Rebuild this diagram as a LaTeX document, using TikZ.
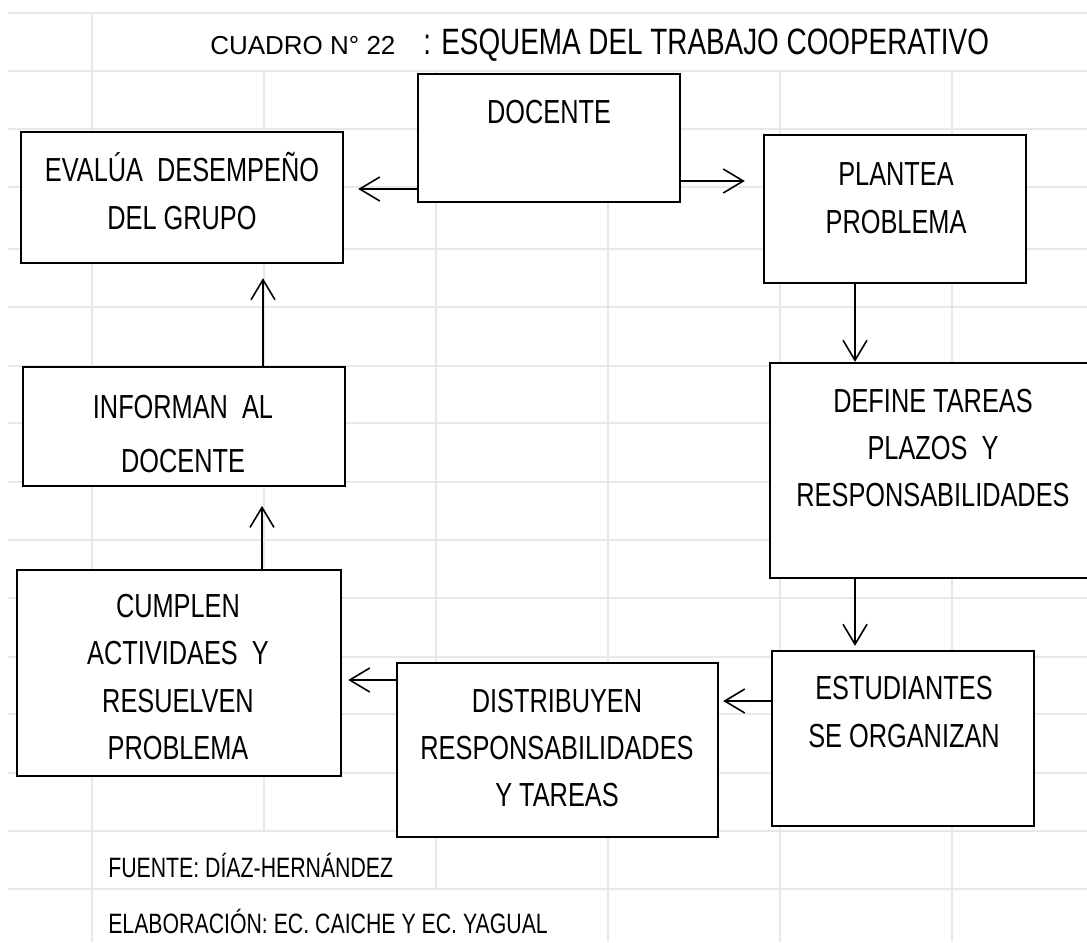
\documentclass[tikz,border=0pt]{standalone}
\usepackage{fontspec}
\setmainfont{Liberation Sans}
\newfontfamily\narrowfont{Liberation Sans}[FakeStretch=0.76]
\usetikzlibrary{arrows.meta, calc, fit}

\begin{document}
\begin{tikzpicture}[x=0.75pt, y=-0.75pt,
  sheetline/.style={gray!18, line width=1.3pt},
  box/.style={draw, fill=white, line width=1.8pt, inner sep=0pt},
  boxtext/.style={align=center, inner sep=0pt, font=\narrowfont\fontsize{25}{35.6}\selectfont},
  note/.style={anchor=base west, inner sep=0pt, font=\narrowfont\fontsize{21}{25}\selectfont},
  arr/.style={-{Straight Barb[length=15pt, width=18pt]}, line width=1.2pt}]

\useasboundingbox (0,0) rectangle (1087,942);
\fill[white] (0,0) rectangle (1087,942);
\clip (0,0) rectangle (1087,942);

% ---- spreadsheet grid (behind everything) -------------------------------
\foreach \y in {13,71,129,187,249,307,366,423,482,540,598,657,714,773,831,889}
  \draw[sheetline] (8,\y) -- (1087,\y);
\draw[sheetline] (92,13) -- (92,942);
\draw[sheetline] (264,71) -- (264,831);
\draw[sheetline] (436,71) -- (436,889);
\foreach \x in {608,780,952}
  \draw[sheetline] (\x,71) -- (\x,942);

% ---- title ---------------------------------------------------------------
\node[anchor=base west, inner sep=0pt, font=\fontsize{19.5}{24}\selectfont] (cuadro) at (210,55) {CUADRO N° 22};
\node[anchor=base west, inner sep=0pt, font=\narrowfont\fontsize{27.5}{33}\selectfont] (titulo) at (423,55)
  {: ESQUEMA DEL TRABAJO COOPERATIVO};

% ---- boxes ---------------------------------------------------------------
\node[box, fit={(418,74) (680,202)}] (docente) {};
\node[box, fit={(21,132) (343,263)}] (evalua) {};
\node[box, fit={(764,135) (1026,283)}] (plantea) {};
\node[box, fit={(770,363) (1096,578)}] (define) {};
\node[box, fit={(772,651) (1034,826)}] (estud) {};
\node[box, fit={(397,663) (718,837)}] (distrib) {};
\node[box, fit={(17,570) (341,776)}] (cumplen) {};
\node[box, fit={(23,367) (345,486)}] (informan) {};

\node[boxtext] (docentetxt) at (549,112) {DOCENTE};
\node[boxtext] (evaluatxt) at (182,191) {EVALÚA~ DESEMPEÑO\\DEL GRUPO};
\node[boxtext] (planteatxt) at (896,198) {PLANTEA\\PROBLEMA};
\node[boxtext] (definetxt) at (933,448) {DEFINE TAREAS\\PLAZOS~ Y\\RESPONSABILIDADES};
\node[boxtext] (estudtxt) at (904,712) {ESTUDIANTES\\SE ORGANIZAN};
\node[boxtext] (distribtxt) at (557,748) {DISTRIBUYEN\\RESPONSABILIDADES\\Y TAREAS};
\node[boxtext] (cumplentxt) at (178,677) {CUMPLEN\\ACTIVIDAES~ Y\\RESUELVEN\\PROBLEMA};
\node[boxtext, font=\narrowfont\fontsize{25}{41.2}\selectfont] (informantxt) at (183,434) {INFORMAN~ AL\\DOCENTE};

% ---- connectors ----------------------------------------------------------
\draw[arr, shorten >=10.5pt] (docente.west |- 0,189) -- (evalua.east |- 0,189);
\draw[arr, shorten >=13.5pt] (docente.east |- 0,181) -- (plantea.west |- 0,181);
\draw[arr] (plantea.south -| 855,0) -- (define.north -| 855,0);
\draw[arr, shorten >=3pt] (define.south -| 855,0) -- (estud.north -| 855,0);
\draw[arr, shorten >=3pt] (estud.west |- 0,701) -- (distrib.east |- 0,701);
\draw[arr, shorten >=4.5pt] (distrib.west |- 0,680) -- (cumplen.east |- 0,680);
\draw[arr, shorten >=14pt] (cumplen.north -| 262,0) -- (informan.south -| 262,0);
\draw[arr, shorten >=10.5pt] (informan.north -| 263,0) -- (evalua.south -| 263,0);

% ---- source notes --------------------------------------------------------
\node[note] (fuente) at (108,877) {FUENTE: DÍAZ-HERNÁNDEZ};
\node[note] (elabora) at (108,933) {ELABORACIÓN: EC. CAICHE Y EC. YAGUAL};
\end{tikzpicture}
\end{document}
